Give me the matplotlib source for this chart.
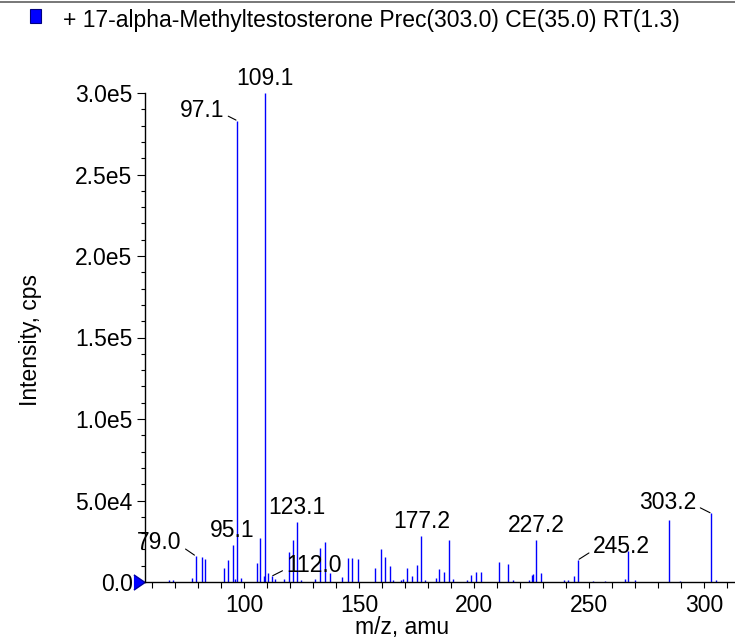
import numpy as np
import matplotlib as mpl
mpl.use('Agg')
import matplotlib.pyplot as plt
from matplotlib.patches import Rectangle
from matplotlib.lines import Line2D
from matplotlib.ticker import MultipleLocator, FuncFormatter

plt.rcParams['font.family'] = ['Liberation Sans', 'DejaVu Sans']

title = '+ 17-alpha-Methyltestosterone Prec(303.0) CE(35.0) RT(1.3)'

# m/z values and intensities (cps)
mz = [67.5, 69.3, 77.4, 79.0, 81.6, 83.3, 91.4, 93.3, 95.1, 96.3, 97.1, 98.7,
      105.5, 107.1, 108.6, 109.1, 110.4, 112.0, 113.6, 117.3, 119.4, 121.3,
      123.1, 124.8, 131.0, 133.2, 135.1, 137.3, 142.6, 145.2, 147.2, 149.4,
      157.1, 159.6, 161.4, 163.3, 164.9, 168.1, 169.3, 171.0, 173.2, 175.3,
      177.2, 178.6, 183.3, 184.8, 187.0, 189.1, 190.9, 197.1, 198.8, 201.0,
      203.2, 210.9, 214.8, 217.1, 224.1, 225.1, 225.5, 227.2, 229.1, 239.3,
      241.0, 243.3, 245.2, 251.9, 257.1, 265.8, 267.1, 270.0, 285.0, 289.6,
      303.2, 305.1]
intensity = [1200, 1500, 2200, 16000, 15300, 13900, 8800, 13500, 22700, 2000, 283000, 2400,
             11800, 26800, 3700, 300000, 5700, 3500, 1800, 2000, 18200, 25800,
             37000, 1500, 2000, 21000, 24700, 5300, 3300, 14500, 14500, 14100,
             8400, 20200, 15500, 10000, 1000, 1000, 1800, 8800, 3900, 10400,
             28200, 1500, 2600, 8000, 6300, 25800, 1800, 1500, 4300, 6300,
             6300, 12500, 11000, 1500, 1000, 4300, 4900, 25800, 5700, 1200,
             1200, 3700, 13500, 800, 800, 1800, 19000, 1000, 38000, 800,
             42100, 1200]

# labelled peaks: plain labels sit on top, the others get a leader line
top_labels = [109.1, 95.1, 123.1, 177.2, 227.2]
leader_labels = [97.1, 79.0, 112.0, 245.2, 303.2]
leader_offsets = {97.1: (-13, 10), 79.0: (-14, 13), 112.0: (15, 11),
                  245.2: (15, 13), 303.2: (-15, 11)}

fs = 16.5
fig = plt.figure(figsize=(7.35, 6.39), dpi=100)
ax = fig.add_axes([145 / 735, 57 / 639, 590 / 735, 489 / 639])

ax.vlines(mz, 0, intensity, color='#0000ff', lw=1.0)
ax.set_xlim(57, 313.5)
ax.set_ylim(0, 3.0e5)

inten = dict(zip(mz, intensity))
for m in top_labels:
    ax.annotate(f'{m:.1f}', (m, inten[m]), xytext=(0, 3), textcoords='offset pixels',
                ha='center', va='bottom', fontsize=fs, annotation_clip=False)
for m in leader_labels:
    dx, dy = leader_offsets[m]
    ax.annotate(f'{m:.1f}', (m, inten[m]), xytext=(dx, dy), textcoords='offset pixels',
                ha='right' if dx < 0 else 'left', va='center', fontsize=fs,
                arrowprops=dict(arrowstyle='-', color='black', lw=0.8,
                                shrinkA=1, shrinkB=1,
                                relpos=(1, 0.35) if dx < 0 else (0, 0.35)))


def sci(v, pos):
    if v <= 0:
        return '0.0'
    e = int(np.floor(np.log10(v)))
    return f'{v / 10 ** e:.1f}e{e}'


ax.yaxis.set_major_locator(MultipleLocator(5e4))
ax.yaxis.set_minor_locator(MultipleLocator(1e4))
ax.yaxis.set_major_formatter(FuncFormatter(sci))
ax.xaxis.set_major_locator(MultipleLocator(50))
ax.xaxis.set_minor_locator(MultipleLocator(10))
ax.tick_params(axis='y', which='major', length=6, width=0.8, labelsize=fs, pad=3)
ax.tick_params(axis='y', which='minor', length=3, width=0.8)
ax.tick_params(axis='x', which='both', length=4, width=0.8, labelsize=fs, pad=5)
for s in ['top', 'right']:
    ax.spines[s].set_visible(False)
for s in ['left', 'bottom']:
    ax.spines[s].set_linewidth(1.0)

ax.set_ylabel('Intensity, cps', fontsize=fs)
ax.set_xlabel('m/z, amu', fontsize=fs)
ax.yaxis.set_label_coords(-0.175, 0.495)
ax.xaxis.set_label_coords(0.436, -0.07)

# blue marker at the zero line
ax.plot([-0.01], [0], marker=[(-0.73, 1), (0.73, 0), (-0.73, -1)], ms=11,
        color='#0000ff', mec='#0000a0', transform=ax.get_yaxis_transform(),
        clip_on=False)

# header with the trace legend
fig.patches.append(Rectangle((30 / 735, 1 - 23 / 639), 11 / 735, 14 / 639,
                             transform=fig.transFigure, facecolor='#0000ff',
                             edgecolor='#000080', lw=0.8))
fig.text(63 / 735, 1 - 21 / 639, title, fontsize=fs, va='center', ha='left')
fig.lines.append(Line2D([0, 1], [1 - 2 / 639, 1 - 2 / 639], transform=fig.transFigure,
                        color='#606060', lw=1.2))

fig.savefig('out.png', dpi=100)
